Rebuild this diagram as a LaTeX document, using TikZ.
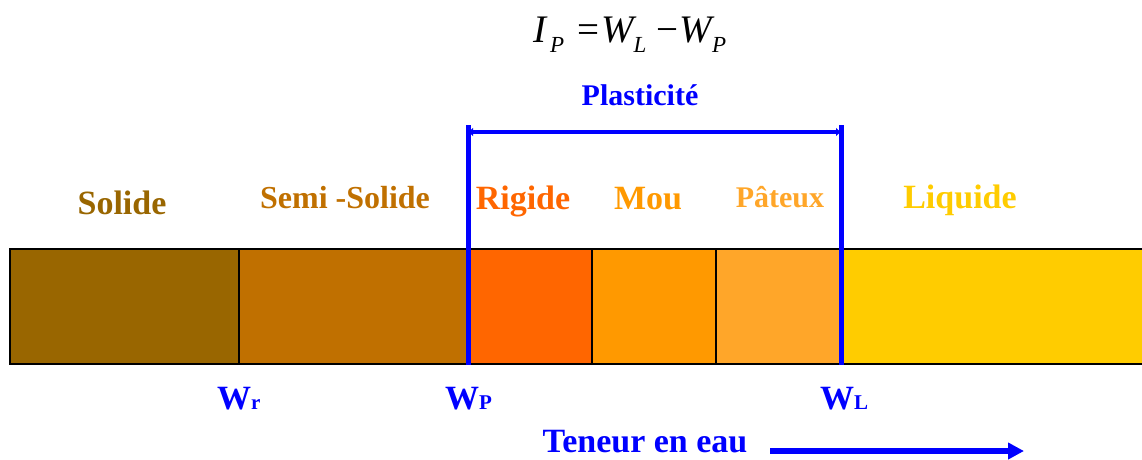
\documentclass[tikz,border=0pt]{standalone}
\usepackage{fontspec}
\setmainfont{Liberation Serif}
\usepackage{tikz}
\usetikzlibrary{arrows.meta}
\definecolor{cSol}{RGB}{153,102,0}
\definecolor{cSemi}{RGB}{192,112,0}
\definecolor{cRig}{RGB}{255,102,0}
\definecolor{cMou}{RGB}{255,153,0}
\definecolor{cPat}{RGB}{255,166,41}
\definecolor{cLiq}{RGB}{255,204,0}
\definecolor{cBlue}{RGB}{0,0,255}
\newcommand{\fsub}[1]{\raisebox{-10pt}{\fontsize{23}{23}\selectfont\itshape #1}}
\newcommand{\wsub}[1]{{\fontsize{21}{21}\selectfont #1}}

\begin{document}
\begin{tikzpicture}[x=1pt,y=-1pt,
  lbl/.style={anchor=base,font=\fontsize{34}{34}\selectfont\bfseries},
  wlbl/.style={anchor=base west,inner sep=0pt,text=cBlue,font=\fontsize{34}{34}\selectfont\bfseries},
  bound/.style={cBlue,line width=5pt}]
\useasboundingbox (0,0) rectangle (1142,459);
\node[anchor=base west,inner sep=0pt,font=\fontsize{39}{39}\selectfont\itshape] (ip) at (533,42)
  {I\hspace{4pt}\fsub{P}\hspace{13pt}{\upshape =}\hspace{2pt}W\fsub{L}\hspace{10pt}{\upshape −}\hspace{1pt}W\fsub{P}};
\node[anchor=base,text=cBlue,font=\fontsize{30}{30}\selectfont\bfseries] (plast) at (640,105) {Plasticité};
\node[lbl,text=cSol] (sol) at (122,214) {Solide};
\node[lbl,text=cSemi,font=\fontsize{32}{32}\selectfont\bfseries] (semi) at (345,208) {Semi -Solide};
\node[lbl,text=cRig] (rig) at (523,209) {Rigide};
\node[lbl,text=cMou] (mou) at (648,209) {Mou};
\node[lbl,text=cPat,font=\fontsize{30}{30}\selectfont\bfseries] (pat) at (780,207) {Pâteux};
\node[lbl,text=cLiq] (liq) at (960,208) {Liquide};
\fill[cSol] (10,249) rectangle (239,364);
\fill[cSemi] (239,249) rectangle (467,364);
\fill[cRig] (467,249) rectangle (592,364);
\fill[cMou] (592,249) rectangle (716,364);
\fill[cPat] (716,249) rectangle (840,364);
\fill[cLiq] (840,249) rectangle (1146,364);
\draw[line width=2pt] (1146,249) -- (10,249) -- (10,364) -- (1146,364);
\draw[line width=1.5pt] (239,249) -- (239,364);
\draw[line width=1.5pt] (592,249) -- (592,364);
\draw[line width=1.5pt] (716,249) -- (716,364);
\coordinate (wpt) at (468,125);
\coordinate (wpb) at (468,365);
\coordinate (wlt) at (841,125);
\coordinate (wlb) at (841,365);
\draw[bound] (wpt) -- (wpb);
\draw[bound] (wlt) -- (wlb);
\draw[cBlue,line width=4pt,{Latex[length=5pt,width=9pt]}-{Latex[length=5pt,width=9pt]}] ([yshift=-7pt]wpt) -- ([yshift=-7pt]wlt);
\node[wlbl] (wr) at (217,409) {W\wsub{r}};
\node[wlbl] (wp) at (445,409) {W\wsub{P}};
\node[wlbl] (wl) at (820,409) {W\wsub{L}};
\node[wlbl,anchor=base] (ten) at (645,452) {Teneur en eau};
\coordinate (ta) at (770,451);
\coordinate (tb) at (1024,451);
\draw[cBlue,line width=6pt,-{Triangle[length=16pt,width=16pt]}] (ta) -- (tb);
\end{tikzpicture}
\end{document}
